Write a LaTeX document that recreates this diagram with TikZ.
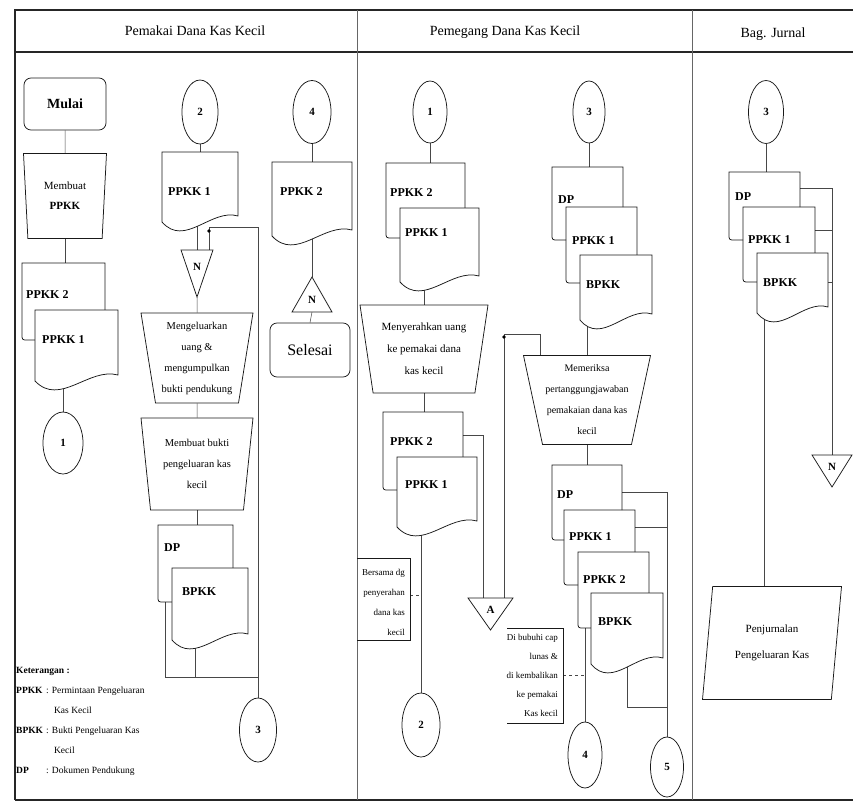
\documentclass[tikz,border=0pt]{standalone}
\usepackage{fontspec}
\setmainfont{Liberation Serif}
\usepackage{tikz}
\usetikzlibrary{positioning,shapes.geometric,backgrounds,calc}
\tikzset{
  shp/.style={draw=black!90,line width=0.75pt},
  conn/.style={draw=black!72,line width=0.5pt},
  frame/.style={draw=black!85,line width=1.4pt},
  lane/.style={draw=black!60,line width=0.6pt},
  term/.style={rectangle,rounded corners=7pt,shp,align=center,inner sep=2pt},
  manop/.style={trapezium,shape border rotate=180,trapezium stretches body,shp,
    align=center,inner sep=1pt,font=\fontsize{10.5}{21}\selectfont},
  onpg/.style={ellipse,shp,inner sep=0pt,font=\fontsize{11}{13}\selectfont\bfseries},
  doclbl/.style={anchor=west,inner sep=0pt,font=\fontsize{12}{14}\selectfont\bfseries},
  flbl/.style={inner sep=0pt,font=\fontsize{11}{13}\selectfont\bfseries},
  head/.style={font=\fontsize{14}{16}\selectfont},
  note/.style={align=right,inner sep=0pt,anchor=east},
  legnd/.style={inner sep=0pt,font=\fontsize{9.5}{11.5}\selectfont},
  jdot/.style={circle,fill=black,inner sep=0pt,minimum size=3.6pt},
}
% document symbol with wavy bottom: name, x1, y1, x2, y(bottom left)
\newcommand{\frontdoc}[5]{%
  \draw[shp,fill=white] (#2,#5) -- (#2,#3) -- (#4,#3) -- (#4,{#5-6})
    .. controls ({#2+0.65*(#4-#2)},{#5-14}) and ({#2+0.3*(#4-#2)},{#5+26}) .. (#2,#5) -- cycle;
  \coordinate (#1-n) at ({(#2+#4)/2},#3);
  \coordinate (#1-b) at ({(#2+#4)/2},{#5-8});
}
% document behind another: name, x1, y1, x2, top of next, stub y, left of next
\newcommand{\backdoc}[7]{%
  \draw[shp] (#7,#6) -- ({#2+6},#6) .. controls (#2,#6) .. (#2,{#6-6}) -- (#2,#3) -- (#4,#3) -- (#4,#5);
  \coordinate (#1-n) at ({(#2+#4)/2},#3);
}
% file triangle: name, x left, x right, y base, y apex, label
\newcommand{\filetri}[6]{%
  \draw[shp,fill=white] (#2,#4) -- (#3,#4) -- ({(#2+#3)/2},#5) -- cycle;
  \node[flbl] (#1) at ({(#2+#3)/2},{#4+0.36*(#5-#4)}) {#6};
  \coordinate (#1-t) at ({(#2+#3)/2},#4);
  \coordinate (#1-a) at ({(#2+#3)/2},#5);
}
\begin{document}
\begin{tikzpicture}[x=1pt,y=-1pt]
  \useasboundingbox (0,0) rectangle (853,803);
  \node[head] (hpem) at (195,31) {Pemakai Dana Kas Kecil};
  \node[head] (hpeg) at (505,32) {Pemegang Dana Kas Kecil};
  \node[head] (hjur) at (773,34) {Bag. Jurnal};

  % Pemakai Dana Kas Kecil
  \node[term,minimum width=82,minimum height=52,font=\fontsize{14}{16}\selectfont\bfseries] (mulai) at (65,104) {Mulai};
  \node[manop,minimum width=83,minimum height=85,trapezium angle=81.6,font=\fontsize{11}{20}\selectfont] (bppkk) at (65,196) {Membuat\\\textbf{PPKK}};
  \backdoc{pk2a}{22}{263}{105}{310}{340}{35}
  \frontdoc{pk1a}{35}{310}{118}{381}
  \node[doclbl] (lpk2a) at (26,295) {PPKK 2};
  \node[doclbl] (lpk1a) at (42,340) {PPKK 1};
  \node[onpg,minimum width=40,minimum height=62] (c1a) at (63,443) {1};

  \node[onpg,minimum width=36,minimum height=64] (c2a) at (200,112) {2};
  \frontdoc{pk1b}{162}{152}{238}{222}
  \node[doclbl] (lpk1b) at (168,192) {PPKK 1};
  \filetri{fn1}{181}{213}{250}{297}{N}
  \coordinate (fn1-r) at (209,250);
  \coordinate (jloop) at (209,227);
  \node[jdot] (dot1) at (209,231) {};
  \node[manop,minimum width=112,minimum height=90,trapezium angle=79] (keluar) at (197,358) {Mengeluarkan\\uang \&\\mengumpulkan\\bukti pendukung};
  \node[manop,minimum width=112,minimum height=92,trapezium angle=79.5] (bbukti) at (197,464) {Membuat bukti\\pengeluaran kas\\kecil};
  \backdoc{dpb}{158}{525}{233}{568}{602}{172}
  \frontdoc{bpb}{172}{568}{248}{640}
  \node[doclbl] (ldpb) at (164,548) {DP};
  \node[doclbl] (lbpb) at (182,592) {BPKK};
  \coordinate (jdpb) at (165,602);
  \coordinate (jbpb) at (195,677);
  \coordinate (jmrg) at (258,677);
  \node[onpg,minimum width=37,minimum height=64] (c3a) at (258,730) {3};

  \node[onpg,minimum width=38,minimum height=63] (c4a) at (312,112) {4};
  \frontdoc{pk2c}{272}{162}{352}{236}
  \node[doclbl] (lpk2c) at (280,192) {PPKK 2};
  \filetri{fn2}{292}{332}{312}{277}{N}
  \node[term,minimum width=80,minimum height=54,font=\fontsize{16}{18}\selectfont] (selesai) at (310,350) {Selesai};

  \node[legnd,anchor=north west] (ket) at (16,659) {%
    \renewcommand{\arraystretch}{1.75}%
    \begin{tabular}{@{}l@{\hspace{3pt}}l@{}}
      \multicolumn{2}{@{}l@{}}{\textbf{Keterangan :}}\\
      \textbf{PPKK} & : Permintaan Pengeluaran\\
       & \hspace{8pt}Kas Kecil\\
      \textbf{BPKK} & : Bukti Pengeluaran Kas\\
       & \hspace{8pt}Kecil\\
      \textbf{DP} & : Dokumen Pendukung
    \end{tabular}};

  % Pemegang Dana Kas Kecil
  \node[onpg,minimum width=34,minimum height=62] (c1b) at (430,112) {1};
  \backdoc{pk2d}{386}{163}{465}{208}{238}{400}
  \frontdoc{pk1d}{400}{208}{479}{282}
  \node[doclbl] (lpk2d) at (390,193) {PPKK 2};
  \node[doclbl] (lpk1d) at (405,233) {PPKK 1};
  \node[manop,minimum width=128,minimum height=88,trapezium angle=76.3,font=\fontsize{11}{22}\selectfont] (serah) at (424,349) {Menyerahkan uang\\ke pemakai dana\\kas kecil};
  \backdoc{pk2e}{383}{412}{463}{457}{490}{397}
  \frontdoc{pk1e}{397}{457}{477}{527}
  \node[doclbl] (lpk2e) at (390,442) {PPKK 2};
  \node[doclbl] (lpk1e) at (405,485) {PPKK 1};
  \coordinate (pk2e-r) at (463,435);
  \node[onpg,minimum width=38,minimum height=64] (c2b) at (421,725) {2};
  \node[note,font=\fontsize{9}{20}\selectfont] (nbrs) at (405,602) {Bersama dg\\penyerahan\\dana kas\\kecil};
  \draw[shp] (357,558) -- (410,558) -- (410,640) -- (357,640);
  \coordinate (nbrs-r) at (410,595);
  \filetri{fa}{468}{513}{598}{630}{A}
  \coordinate (fa-l) at (483,598);
  \coordinate (fa-r) at (504,598);
  \coordinate (jcor) at (504,334);
  \coordinate (jper) at (540,356);
  \node[jdot] (dot2) at (504,337) {};

  \node[onpg,minimum width=32,minimum height=62] (c3b) at (589,112) {3};
  \backdoc{dpe}{552}{167}{623}{207}{240}{566}
  \backdoc{pk1f}{566}{207}{637}{255}{283}{580}
  \frontdoc{bpe}{580}{255}{652}{320}
  \node[doclbl] (ldpe) at (558,200) {DP};
  \node[doclbl] (lpk1f) at (572,241) {PPKK 1};
  \node[doclbl] (lbpe) at (586,285) {BPKK};
  \node[manop,minimum width=127,minimum height=89,trapezium angle=75.2,font=\fontsize{10}{21}\selectfont] (periksa) at (587,400) {Memeriksa\\\makebox[70pt][c]{pertanggungjawaban}\\\makebox[70pt][c]{pemakaian dana kas}\\kecil};
  \backdoc{dpg}{552}{465}{622}{510}{540}{564}
  \backdoc{pk1g}{564}{510}{635}{552}{585}{578}
  \backdoc{pk2g}{578}{552}{649}{593}{628}{591}
  \frontdoc{bpg}{591}{593}{663}{664}
  \node[doclbl] (ldpg) at (557,495) {DP};
  \node[doclbl] (lpk1g) at (569,537) {PPKK 1};
  \node[doclbl] (lpk2g) at (583,580) {PPKK 2};
  \node[doclbl] (lbpg) at (598,622) {BPKK};
  \coordinate (dpg-r) at (622,492);
  \coordinate (pk1g-r) at (635,527);
  \coordinate (jbp) at (627,707);
  \coordinate (pk2g-s) at (585,628);
  \node[onpg,minimum width=33,minimum height=60] (c5b) at (667,767) {5};
  \node[onpg,minimum width=34,minimum height=66] (c4b) at (585,755) {4};
  \node[note,font=\fontsize{9}{19}\selectfont] (nbub) at (558,675) {Di bubuhi cap\\lunas \&\\di kembalikan\\ke pemakai\\Kas kecil};
  \draw[shp] (507,628) -- (563,628) -- (563,723) -- (507,723);
  \coordinate (nbub-r) at (563,675);

  % Bag. Jurnal
  \node[onpg,minimum width=35,minimum height=63] (c3c) at (766,112) {3};
  \backdoc{dpj}{729}{172}{800}{207}{240}{743}
  \backdoc{pk1j}{743}{207}{815}{253}{282}{757}
  \frontdoc{bpj}{757}{253}{828}{313}
  \node[doclbl] (ldpj) at (735,197) {DP};
  \node[doclbl] (lpk1j) at (748,240) {PPKK 1};
  \node[doclbl] (lbpj) at (763,283) {BPKK};
  \coordinate (dpj-r) at (800,188);
  \coordinate (pk1j-r) at (815,230);
  \coordinate (bpj-r) at (828,282);
  \filetri{fn3}{812}{852}{455}{487}{N}
  \node[trapezium,trapezium left angle=76.6,trapezium right angle=103.4,trapezium stretches body,shp,
    minimum width=139,minimum height=113,align=center,font=\fontsize{11}{26}\selectfont] (jurnal) at (772,643) {Penjurnalan\\Pengeluaran Kas};
  \coordinate (jjur) at (764,587);

  \begin{scope}[on background layer]
    \draw[frame] (15,800) -- (15,10) -- (853,10);
    \draw[frame] (15,52) -- (853,52);
    \draw[frame] (15,800) -- (853,800);
    \draw[lane] (357,10) -- (357,800);
    \draw[lane] (692,10) -- (692,800);
    % pemakai
    \draw[conn] (mulai.south) -- (bppkk.north);
    \draw[conn] (bppkk.south) -- (bppkk.south |- pk2a-n);
    \draw[conn] (c1a.north |- pk1a-b) -- (c1a.north);
    \draw[conn] (c2a.south) -- (c2a.south |- pk1b-n);
    \draw[conn] (pk1b-b -| fn1-t) -- (fn1-t);
    \draw[conn] (fn1-r) -- (jloop) -| (c3a.north);
    \draw[conn] (fn1-a) -- (keluar.north);
    \draw[conn] (keluar.south) -- (bbukti.north);
    \draw[conn] (bbukti.south) -- (bbukti.south |- dpb-n);
    \draw[conn] (jdpb) |- (jmrg);
    \draw[conn] (bpb-b -| jbpb) -- (jbpb);
    \draw[conn] (c4a.south) -- (c4a.south |- pk2c-n);
    \draw[conn] (pk2c-b -| fn2-a) -- (fn2-a);
    \draw[conn] (fn2-t) -- (selesai.north);
    % pemegang
    \draw[conn] (c1b.south) -- (c1b.south |- pk2d-n);
    \draw[conn] (pk1d-b -| serah.north) -- (serah.north);
    \draw[conn] (serah.south) -- (serah.south |- pk2e-n);
    \draw[conn] (pk1e-b -| c2b.north) -- (c2b.north);
    \draw[conn] (pk2e-r) -| (fa-l);
    \draw[conn] (fa-r) -- (jcor) -| (jper);
    \draw[conn,dashed] (nbrs-r) -- (nbrs-r -| c2b.north);
    \draw[conn] (c3b.south) -- (c3b.south |- dpe-n);
    \draw[conn] (bpe-b -| periksa.north) -- (periksa.north);
    \draw[conn] (periksa.south) -- (periksa.south |- dpg-n);
    \draw[conn] (dpg-r) -| (c5b.north);
    \draw[conn] (pk1g-r) -- (pk1g-r -| c5b.north);
    \draw[conn] (bpg-b -| jbp) -- (jbp) -- (jbp -| c5b.north);
    \draw[conn] (pk2g-s) -- (c4b.north);
    \draw[conn,dashed] (nbub-r) -- (nbub-r -| c4b.north);
    % jurnal
    \draw[conn] (c3c.south) -- (c3c.south |- dpj-n);
    \draw[conn] (dpj-r) -| (fn3-t);
    \draw[conn] (pk1j-r) -- (pk1j-r -| fn3-t);
    \draw[conn] (bpj-r) -- (bpj-r -| fn3-t);
    \draw[conn] (bpj-b -| jjur) -- (jjur);
  \end{scope}
\end{tikzpicture}
\end{document}
